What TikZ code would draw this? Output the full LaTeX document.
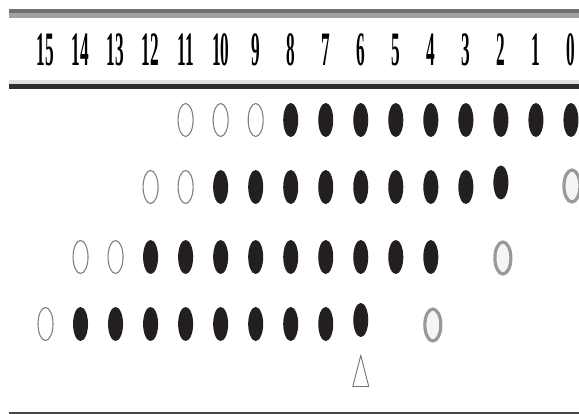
\documentclass[tikz,border=0pt]{standalone}
\usepackage{fontspec}
\setmainfont{Liberation Serif}
\usetikzlibrary{shapes.geometric, calc}
\definecolor{dotink}{HTML}{231F20}

\begin{document}
\begin{tikzpicture}[
        x=1pt, y=-1pt,
        bitlabel/.style={font=\fontsize{48}{48}\selectfont\bfseries, xscale=0.36, inner sep=0pt},
        setbit/.style={ellipse, fill=dotink, minimum width=15pt, minimum height=34pt, inner sep=0pt},
        freebit/.style={ellipse, draw=black!50, line width=1.1pt, fill=white, minimum width=15pt, minimum height=33pt, inner sep=0pt},
        ghostbit/.style={ellipse, draw=black!40, line width=3.2pt, fill=black!4, minimum width=16pt, minimum height=32pt, inner sep=0pt},
        marker/.style={draw=black!55, line width=0.9pt, line join=miter}
      ]
      \useasboundingbox (0,0) rectangle (579,414);

      % rules
      \fill[black!56] (9,9.3) rectangle (579,13.3);
      \fill[black!37] (9,13.3) rectangle (579,17.7);
      \fill[black!12] (9,80) rectangle (579,84.3);
      \fill[black!82] (9,84.3) rectangle (579,88.7);
      \fill[black!72] (9,412.3) rectangle (579,414);

      % bit numbers
      \foreach \c in {0,...,15}
        \node[bitlabel] (bit\c) at ({45.5+(15-\c)*35.03}, 50) {\c};

      % row 1
      \foreach \c in {11,10,9}
        \node[freebit] (r1c\c) at (bit\c |- 0,120) {};
      \foreach \c in {8,...,0}
        \node[setbit] (r1c\c) at (bit\c |- 0,120) {};

      % row 2
      \foreach \c in {12,11}
        \node[freebit] (r2c\c) at (bit\c |- 0,187) {};
      \foreach \c in {10,...,3}
        \node[setbit] (r2c\c) at (bit\c |- 0,187) {};
      \node[setbit] (r2c2) at (bit2 |- 0,182.5) {};
      \node[ghostbit] (r2c0) at ($(bit0 |- 0,186)+(1,0)$) {};

      % row 3
      \foreach \c in {14,13}
        \node[freebit] (r3c\c) at (bit\c |- 0,257) {};
      \foreach \c in {12,...,4}
        \node[setbit] (r3c\c) at (bit\c |- 0,257) {};
      \node[ghostbit] (r3c2) at ($(bit2 |- 0,258)+(2,0)$) {};

      % row 4
      \node[freebit] (r4c15) at (bit15 |- 0,324) {};
      \foreach \c in {14,...,7}
        \node[setbit] (r4c\c) at (bit\c |- 0,324) {};
      \node[setbit] (r4c6) at (bit6 |- 0,320) {};
      \node[ghostbit] (r4c4) at ($(bit4 |- 0,325)+(2,0)$) {};

      % pointer
      \coordinate (tip) at (bit6 |- 0,371);
      \draw[marker] (tip) ++(-8,15.5) -- ++(8,-31) -- ++(8,31) -- cycle;
    \end{tikzpicture}
\end{document}
